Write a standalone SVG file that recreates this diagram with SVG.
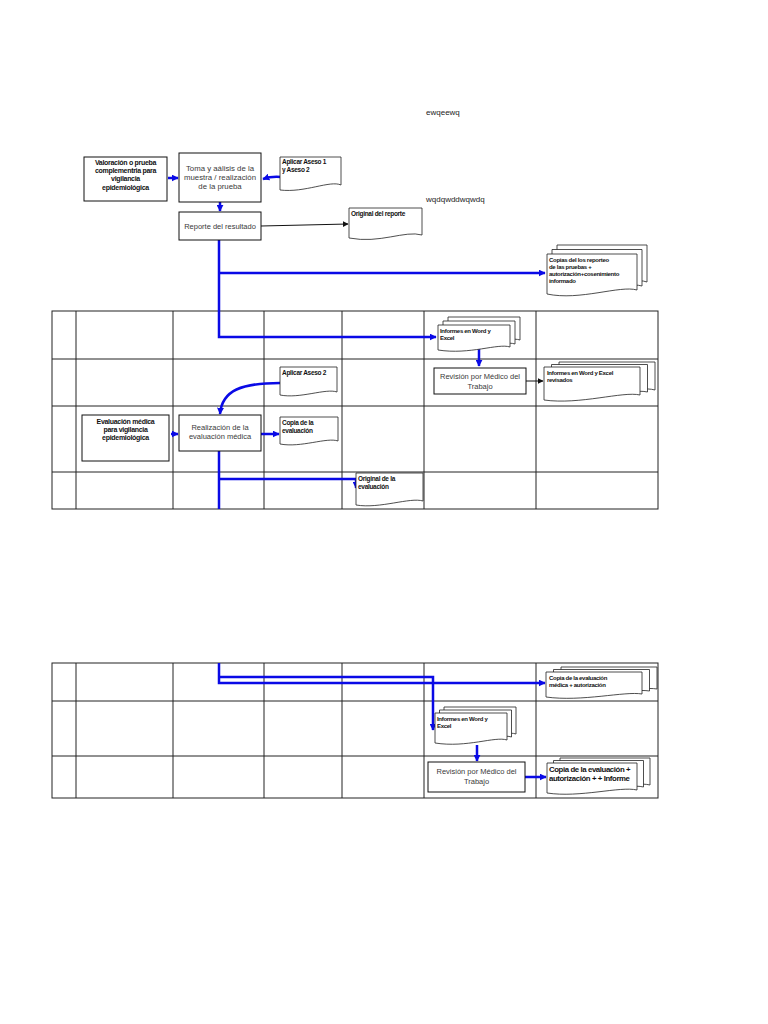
<svg xmlns="http://www.w3.org/2000/svg" width="768" height="1024" viewBox="0 0 768 1024">
<defs>
<marker id="ab" viewBox="0 0 10 10" refX="9" refY="5" markerWidth="7" markerHeight="7" markerUnits="userSpaceOnUse" orient="auto"><path d="M0,0L10,5L0,10Z" fill="#0a0ae6"/></marker>
<marker id="ak" viewBox="0 0 10 10" refX="9" refY="5" markerWidth="6" markerHeight="6" markerUnits="userSpaceOnUse" orient="auto"><path d="M0,0L10,5L0,10Z" fill="#111"/></marker>
<style>
.tbl{stroke:#222;stroke-width:1;fill:none}
.box{fill:#fff;stroke:#111;stroke-width:1}
.doc{fill:#fff;stroke:#222;stroke-width:0.8}
.bl{stroke:#0a0ae6;stroke-width:2.5;fill:none}
.bk{stroke:#111;stroke-width:1;fill:none}
.tb{font-family:"Liberation Sans",Arial,sans-serif;font-weight:bold;font-size:7px;fill:#111;letter-spacing:-0.3px}
.tr{font-family:"Liberation Sans",Arial,sans-serif;font-size:7.5px;fill:#3a3a3a}
.ts{font-family:"Liberation Sans",Arial,sans-serif;font-weight:bold;font-size:6px;fill:#111;letter-spacing:-0.3px}
.tt{font-family:"Liberation Sans",Arial,sans-serif;font-size:8px;fill:#222}
</style>
</defs>
<rect width="768" height="1024" fill="#fff"/>

<g id="table1" class="tbl">
<rect x="52" y="311" width="606" height="198"/>
<path d="M76,311V509M173,311V509M264,311V509M342,311V509M424,311V509M536,311V509M52,359H658M52,406H658M52,472H658"/>
</g>
<g id="table2" class="tbl">
<rect x="52" y="663" width="606" height="135"/>
<path d="M76,663V798M173,663V798M264,663V798M342,663V798M424,663V798M536,663V798M52,701H658M52,756H658"/>
</g>

<text class="tt" x="426" y="115">ewqeewq</text>
<text class="tt" x="426" y="202">wqdqwddwqwdq</text>

<g id="connectors">
<path class="bl" d="M168,178H178" marker-end="url(#ab)"/>
<path class="bl" d="M281,177Q272,176 263,179" marker-end="url(#ab)"/>
<path class="bl" d="M220,202V211" marker-end="url(#ab)"/>
<path class="bk" d="M261,226L348,224" marker-end="url(#ak)"/>
<path class="bl" d="M219,240V337H436" marker-end="url(#ab)"/>
<path class="bl" d="M219,273H545" marker-end="url(#ab)"/>
<path class="bl" d="M479,349V366" marker-end="url(#ab)"/>
<path class="bk" d="M526,381H543" marker-end="url(#ak)"/>
<path class="bl" d="M280,383C242,383 222,390 220,414" marker-end="url(#ab)"/>
<path class="bl" d="M171,434H178" marker-end="url(#ab)"/>
<path class="bl" d="M261,434H279" marker-end="url(#ab)"/>
<path class="bl" d="M219,451V509"/>
<path class="bl" d="M219,479H356V488" marker-end="url(#ab)"/>
<path class="bl" d="M219,663V683H545" marker-end="url(#ab)"/>
<path class="bl" d="M219,677H433V730" marker-end="url(#ab)"/>
<path class="bl" d="M477,745V761" marker-end="url(#ab)"/>
<path class="bl" d="M525,777H546" marker-end="url(#ab)"/>
</g>

<g id="n_valoracion">
<rect class="box" x="84" y="157" width="83" height="44"/>
<text class="tb" text-anchor="middle"><tspan x="125.5" y="165">Valoración  o prueba</tspan><tspan x="125.5" y="173">complementria para</tspan><tspan x="125.5" y="181">vigilancia</tspan><tspan x="125.5" y="190">epidemiológica</tspan></text>
</g>
<g id="n_toma">
<rect class="box" x="179" y="153" width="82" height="49"/>
<text class="tr" text-anchor="middle" style="font-size:7.8px"><tspan x="220" y="171">Toma  y aálisis de la</tspan><tspan x="220" y="180">muestra / realización</tspan><tspan x="220" y="189">de la prueba</tspan></text>
</g>
<g id="n_aplicar1">
<path class="doc" d="M280,157H341V185C330,180 305,193 280,190Z"/>
<text class="ts" style="font-size:6.5px"><tspan x="282" y="164">Aplicar Aseso  1</tspan><tspan x="282" y="172">y Aseso 2</tspan></text>
</g>
<g id="n_reporte">
<rect class="box" x="179" y="212" width="82" height="28"/>
<text class="tr" x="220" y="229" text-anchor="middle">Reporte del resultado</text>
</g>
<g id="n_original_reporte">
<path class="doc" d="M349,208H422V235C405,230 380,244 349,238Z"/>
<text class="ts" style="font-size:6.5px" x="351" y="216">Original del reporte</text>
</g>
<g id="n_copias">
<path class="doc" d="M557,245H647V282C630,276 590,292 557,285Z"/>
<path class="doc" d="M552,249.5H642V286C625,281 585,297 552,290Z"/>
<path class="doc" d="M547,254H637V290C620,285 580,301 547,294Z"/>
<text class="ts"><tspan x="549" y="262">Copias  del  los reporteo</tspan><tspan x="549" y="269">de las pruebas +</tspan><tspan x="549" y="276">autorización+cosenimiento</tspan><tspan x="549" y="283">informado</tspan></text>
</g>
<g id="n_informes1">
<path class="doc" d="M448,317H520V340C508,336 480,348 448,343Z"/>
<path class="doc" d="M443,321H515V344C503,340 475,352 443,347Z"/>
<path class="doc" d="M438,325H510V347C498,343 470,355 438,350Z"/>
<text class="ts"><tspan x="440" y="333">Informes en Word y</tspan><tspan x="440" y="340">Excel</tspan></text>
</g>
<g id="n_revision1">
<rect class="box" x="434" y="368" width="92" height="26"/>
<text class="tr" text-anchor="middle"><tspan x="480" y="379">Revisión por Médico del</tspan><tspan x="480" y="389">Trabajo</tspan></text>
</g>
<g id="n_revisados">
<path class="doc" d="M559,362H655V390C638,385 595,399 559,394Z"/>
<path class="doc" d="M551.5,364.5H647.5V392C630,388 588,402 551.5,397Z"/>
<path class="doc" d="M544,367H640V395C623,391 580,405 544,400Z"/>
<text class="ts"><tspan x="547" y="375">Informes en Word y Excel</tspan><tspan x="547" y="382">revisados</tspan></text>
</g>
<g id="n_aplicar2">
<path class="doc" d="M280,367H337V392C326,388 300,399 280,395Z"/>
<text class="ts" style="font-size:6.5px" x="282" y="375">Aplicar Aseso 2</text>
</g>
<g id="n_evaluacion">
<rect class="box" x="82" y="415" width="87" height="46"/>
<text class="tb" text-anchor="middle"><tspan x="125.5" y="424">Evaluación  médica</tspan><tspan x="125.5" y="432">para vigilancia</tspan><tspan x="125.5" y="440">epidemiológica</tspan></text>
</g>
<g id="n_realizacion">
<rect class="box" x="179" y="415" width="82" height="36"/>
<text class="tr" text-anchor="middle"><tspan x="220" y="430">Realización de la</tspan><tspan x="220" y="439">evaluación médica</tspan></text>
</g>
<g id="n_copia_eval">
<path class="doc" d="M280,417H338V441C327,437 301,448 280,444Z"/>
<text class="ts" style="font-size:6.5px"><tspan x="282" y="425">Copia de la</tspan><tspan x="282" y="433">evaluación</tspan></text>
</g>
<g id="n_original_eval">
<path class="doc" d="M356,473H423V501C410,497 380,509 356,505Z"/>
<text class="ts" style="font-size:6.5px"><tspan x="358" y="481">Original de la</tspan><tspan x="358" y="489">evaluación</tspan></text>
</g>
<g id="n_copia_aut">
<path class="doc" d="M561,667H657V689C640,686 597,697 561,692Z"/>
<path class="doc" d="M553.5,669.5H649.5V691C632,688 590,699 553.5,694Z"/>
<path class="doc" d="M546,672H642V694C625,691 582,702 546,697Z"/>
<text class="ts"><tspan x="549" y="680">Copia de la evaluación</tspan><tspan x="549" y="687">médica + autorización</tspan></text>
</g>
<g id="n_informes2">
<path class="doc" d="M444,707H516V734C504,730 476,742 444,737Z"/>
<path class="doc" d="M439.5,710H511.5V737C499,733 471,745 439.5,740Z"/>
<path class="doc" d="M435,713H507V740C495,736 467,748 435,743Z"/>
<text class="ts"><tspan x="437" y="721">Informes en Word y</tspan><tspan x="437" y="728">Excel</tspan></text>
</g>
<g id="n_revision2">
<rect class="box" x="428" y="762" width="97" height="30"/>
<text class="tr" text-anchor="middle"><tspan x="476.5" y="774">Revisión por Médico del</tspan><tspan x="476.5" y="784">Trabajo</tspan></text>
</g>
<g id="n_copia_final">
<path class="doc" d="M560,758H650V785C634,781 593,792 560,788Z"/>
<path class="doc" d="M553.5,760.5H643.5V787C627,783 587,795 553.5,791Z"/>
<path class="doc" d="M547,763H637V790C620,786 580,798 547,793Z"/>
<text class="tb" style="font-size:7.8px;letter-spacing:-0.4px"><tspan x="549" y="772">Copia de la evaluación +</tspan><tspan x="549" y="781">autorización + + Informe</tspan></text>
</g>
</svg>
